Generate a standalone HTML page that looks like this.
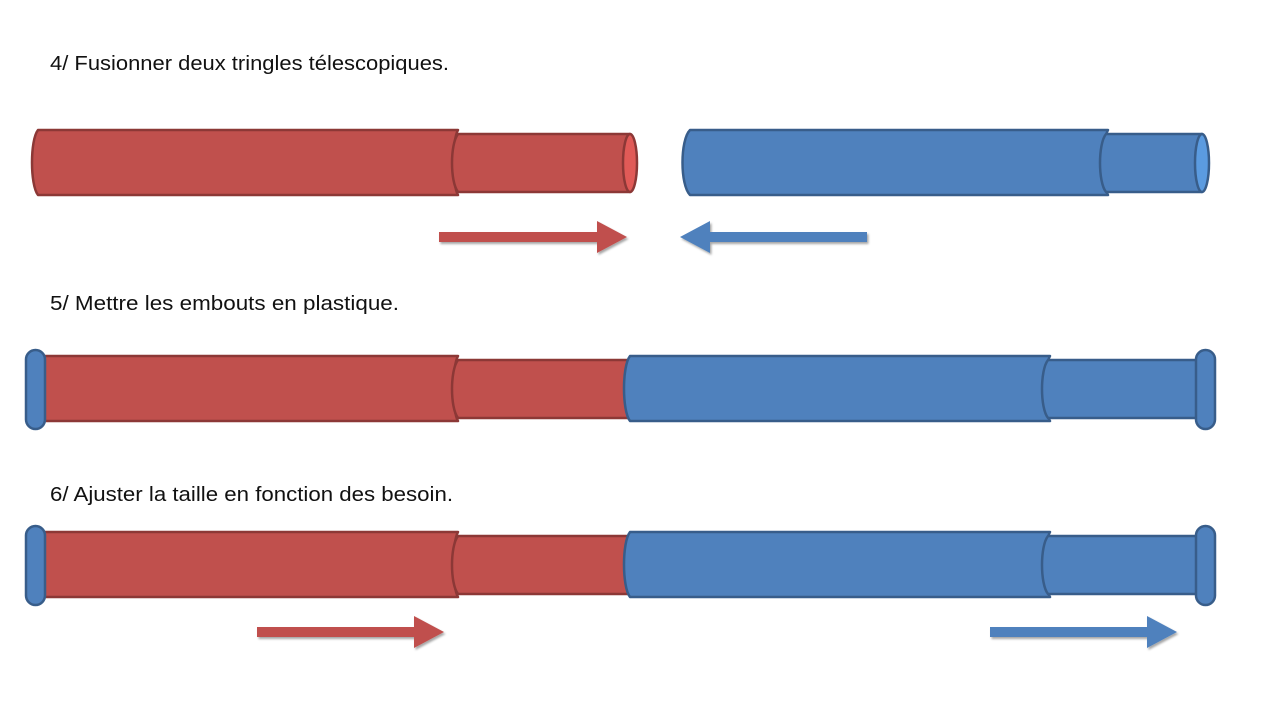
<!DOCTYPE html>
<html><head><meta charset="utf-8">
<style>
html,body{margin:0;padding:0;background:#fff;}
svg{display:block;}
text{font-family:"Liberation Sans",sans-serif;font-size:20px;fill:#111;}
</style></head>
<body>
<svg width="1280" height="720" viewBox="0 0 1280 720" xmlns="http://www.w3.org/2000/svg">
<defs>
<filter id="sh" x="-10%" y="-20%" width="130%" height="160%">
<feDropShadow dx="1.5" dy="2" stdDeviation="1" flood-color="#000" flood-opacity="0.35"/>
</filter>
</defs>

<text x="50" y="70" textLength="399" lengthAdjust="spacingAndGlyphs">4/ Fusionner deux tringles télescopiques.</text>
<text x="50" y="310" textLength="349" lengthAdjust="spacingAndGlyphs">5/ Mettre les embouts en plastique.</text>
<text x="50" y="501" textLength="403" lengthAdjust="spacingAndGlyphs">6/ Ajuster la taille en fonction des besoin.</text>

<!-- Row 1 -->
<g stroke-width="2.5" stroke-linejoin="round">
<path d="M38,130 L458,130 C452,140 452,185 458,195 L38,195 C30,185 30,140 38,130 Z" fill="#C0504D" stroke="#8C3836"/>
<path d="M458,134 L630,134 L630,192 L458,192 C450,182 450,144 458,134 Z" fill="#C0504D" stroke="#8C3836"/>
<ellipse cx="630" cy="163" rx="7" ry="29" fill="#E05A57" stroke="#8C3836"/>

<path d="M690,130 L1108,130 C1102,140 1102,185 1108,195 L690,195 C680,185 680,140 690,130 Z" fill="#4F81BD" stroke="#385D8A"/>
<path d="M1106,134 L1202,134 L1202,192 L1106,192 C1098,182 1098,144 1106,134 Z" fill="#4F81BD" stroke="#385D8A"/>
<ellipse cx="1202" cy="163" rx="7" ry="29" fill="#5B9BE0" stroke="#385D8A"/>
</g>
<g filter="url(#sh)">
<path d="M439,232 L597,232 L597,221 L627,237 L597,253 L597,242 L439,242 Z" fill="#C0504D"/>
<path d="M867,232 L710,232 L710,221 L680,237 L710,253 L710,242 L867,242 Z" fill="#4F81BD"/>
</g>

<!-- Row 2 -->
<g stroke-width="2.5" stroke-linejoin="round">
<path d="M40,356 L458,356 C452,366 452,411 458,421 L40,421 Z" fill="#C0504D" stroke="#8C3836"/>
<path d="M458,360 L632,360 L632,418 L458,418 C450,408 450,370 458,360 Z" fill="#C0504D" stroke="#8C3836"/>
<path d="M630,356 L1050,356 C1044,366 1044,411 1050,421 L630,421 C622,411 622,366 630,356 Z" fill="#4F81BD" stroke="#385D8A"/>
<path d="M1048,360 L1200,360 L1200,418 L1048,418 C1040,408 1040,370 1048,360 Z" fill="#4F81BD" stroke="#385D8A"/>
<rect x="26" y="350" width="19" height="79" rx="9.5" fill="#4F81BD" stroke="#385D8A"/>
<rect x="1196" y="350" width="19" height="79" rx="9.5" fill="#4F81BD" stroke="#385D8A"/>
</g>

<!-- Row 3 -->
<g stroke-width="2.5" stroke-linejoin="round">
<path d="M40,532 L458,532 C452,542 452,587 458,597 L40,597 Z" fill="#C0504D" stroke="#8C3836"/>
<path d="M458,536 L632,536 L632,594 L458,594 C450,584 450,546 458,536 Z" fill="#C0504D" stroke="#8C3836"/>
<path d="M630,532 L1050,532 C1044,542 1044,587 1050,597 L630,597 C622,587 622,542 630,532 Z" fill="#4F81BD" stroke="#385D8A"/>
<path d="M1048,536 L1200,536 L1200,594 L1048,594 C1040,584 1040,546 1048,536 Z" fill="#4F81BD" stroke="#385D8A"/>
<rect x="26" y="526" width="19" height="79" rx="9.5" fill="#4F81BD" stroke="#385D8A"/>
<rect x="1196" y="526" width="19" height="79" rx="9.5" fill="#4F81BD" stroke="#385D8A"/>
</g>
<g filter="url(#sh)">
<path d="M257,627 L414,627 L414,616 L444,632 L414,648 L414,637 L257,637 Z" fill="#C0504D"/>
<path d="M990,627 L1147,627 L1147,616 L1177,632 L1147,648 L1147,637 L990,637 Z" fill="#4F81BD"/>
</g>
</svg>
</body></html>
